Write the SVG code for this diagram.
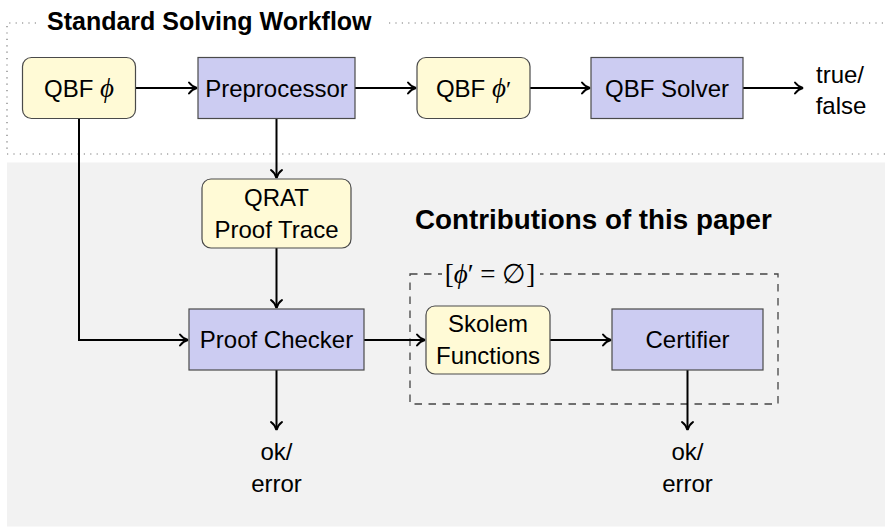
<svg xmlns="http://www.w3.org/2000/svg" width="885" height="527" viewBox="0 0 885 527">
  <style>
    .txt { font-family: "Liberation Sans", Arial, sans-serif; font-size: 24px; fill: #000; }
    .math { font-family: "Liberation Serif", "DejaVu Serif", serif; font-style: italic; }
    .mathup { font-family: "Liberation Serif", "DejaVu Serif", serif; font-style: normal; }
    .title { font-family: "Liberation Sans", Arial, sans-serif; font-weight: bold; fill: #000; }
    .yellow { fill: #fffad6; stroke: #4a4a4a; stroke-width: 1.2; }
    .blue { fill: #ccccf2; stroke: #4a4a4a; stroke-width: 1.2; }
    .conn { fill: none; stroke: #000; stroke-width: 2; }
    .dotted { fill: none; stroke: #777; stroke-width: 1.2; stroke-dasharray: 1.2 5.2; }
    .dashed { fill: none; stroke: #444; stroke-width: 1.3; stroke-dasharray: 7.5 6.5; }
    .label { font-family: "Liberation Serif", "DejaVu Serif", serif; font-size: 27px; fill: #000; }
  </style>
  <defs>
    <marker id="arr" markerUnits="userSpaceOnUse" markerWidth="16" markerHeight="16" viewBox="-10 -8 12 16" refX="0" refY="0" orient="auto">
      <path d="M-8,-5.5 C-5.5,-2.2 -2.5,-0.6 0,0 C-2.5,0.6 -5.5,2.2 -8,5.5" fill="none" stroke="#000" stroke-width="2" stroke-linecap="round"/>
    </marker>
  </defs>

  <!-- backgrounds -->
  <rect x="0" y="0" width="885" height="527" fill="#ffffff"/>
  <rect x="7" y="162.5" width="878" height="364" fill="#f2f2f2"/>

  <!-- dotted standard workflow frame -->
  <path class="dotted" d="M36,23 H7 V154 H885 M389,23 H885"/>
  <text class="title" x="47" y="30" font-size="25">Standard Solving Workflow</text>
  <text class="title" x="415" y="229" font-size="27.8">Contributions of this paper</text>

  <!-- dashed contributions frame -->
  <g id="cond-frame">
    <rect class="dashed" x="410" y="274" width="368" height="130"/>
    <rect x="442" y="259" width="98" height="31" fill="#f2f2f2"/>
    <text class="label" x="490" y="283" text-anchor="middle">[<tspan class="math">ϕ</tspan>′ = ∅]</text>
  </g>

  <!-- connectors -->
  <g id="connectors">
    <path class="conn" d="M136,88 H197" marker-end="url(#arr)"/>
    <path class="conn" d="M355,88 H416" marker-end="url(#arr)"/>
    <path class="conn" d="M530,88 H590" marker-end="url(#arr)"/>
    <path class="conn" d="M743,88 H803" marker-end="url(#arr)"/>
    <path class="conn" d="M276.5,118.5 V178" marker-end="url(#arr)"/>
    <path class="conn" d="M276.5,248 V308" marker-end="url(#arr)"/>
    <path class="conn" d="M79,118.5 V340 H188" marker-end="url(#arr)"/>
    <path class="conn" d="M364,340 H425" marker-end="url(#arr)"/>
    <path class="conn" d="M550,340 H611" marker-end="url(#arr)"/>
    <path class="conn" d="M276.5,370 V430" marker-end="url(#arr)"/>
    <path class="conn" d="M687.5,370 V430" marker-end="url(#arr)"/>
  </g>

  <!-- nodes -->
  <g id="qbf-phi">
    <rect class="yellow" x="22.5" y="57.5" width="113" height="61" rx="9"/>
    <text class="txt" x="79" y="96.5" text-anchor="middle">QBF <tspan class="math" style="font-size:27px">ϕ</tspan></text>
  </g>
  <g id="preprocessor">
    <rect class="blue" x="198" y="57.5" width="157" height="61"/>
    <text class="txt" x="276.5" y="96.5" text-anchor="middle">Preprocessor</text>
  </g>
  <g id="qbf-phi-prime">
    <rect class="yellow" x="417" y="57.5" width="113" height="61" rx="9"/>
    <text class="txt" x="473.5" y="96.5" text-anchor="middle">QBF <tspan class="math" style="font-size:27px">ϕ</tspan><tspan class="mathup">′</tspan></text>
  </g>
  <g id="qbf-solver">
    <rect class="blue" x="591" y="57.5" width="152" height="61"/>
    <text class="txt" x="667" y="96.5" text-anchor="middle">QBF Solver</text>
  </g>
  <g id="true-false">
    <text class="txt" x="840" y="83" text-anchor="middle">true/</text>
    <text class="txt" x="841" y="114" text-anchor="middle">false</text>
  </g>
  <g id="qrat-trace">
    <rect class="yellow" x="202" y="179" width="149" height="69" rx="9"/>
    <text class="txt" x="276.5" y="206" text-anchor="middle">QRAT</text>
    <text class="txt" x="276.5" y="238" text-anchor="middle">Proof Trace</text>
  </g>
  <g id="proof-checker">
    <rect class="blue" x="189" y="309" width="175" height="61"/>
    <text class="txt" x="276.5" y="348" text-anchor="middle">Proof Checker</text>
  </g>
  <g id="skolem">
    <rect class="yellow" x="426" y="306" width="124" height="68" rx="9"/>
    <text class="txt" x="488" y="332" text-anchor="middle">Skolem</text>
    <text class="txt" x="488" y="364" text-anchor="middle">Functions</text>
  </g>
  <g id="certifier">
    <rect class="blue" x="612" y="309" width="151" height="61"/>
    <text class="txt" x="687.5" y="348" text-anchor="middle">Certifier</text>
  </g>
  <g id="ok-error-1">
    <text class="txt" x="276.5" y="460" text-anchor="middle">ok/</text>
    <text class="txt" x="276.5" y="492" text-anchor="middle">error</text>
  </g>
  <g id="ok-error-2">
    <text class="txt" x="687.5" y="460" text-anchor="middle">ok/</text>
    <text class="txt" x="687.5" y="492" text-anchor="middle">error</text>
  </g>
</svg>
